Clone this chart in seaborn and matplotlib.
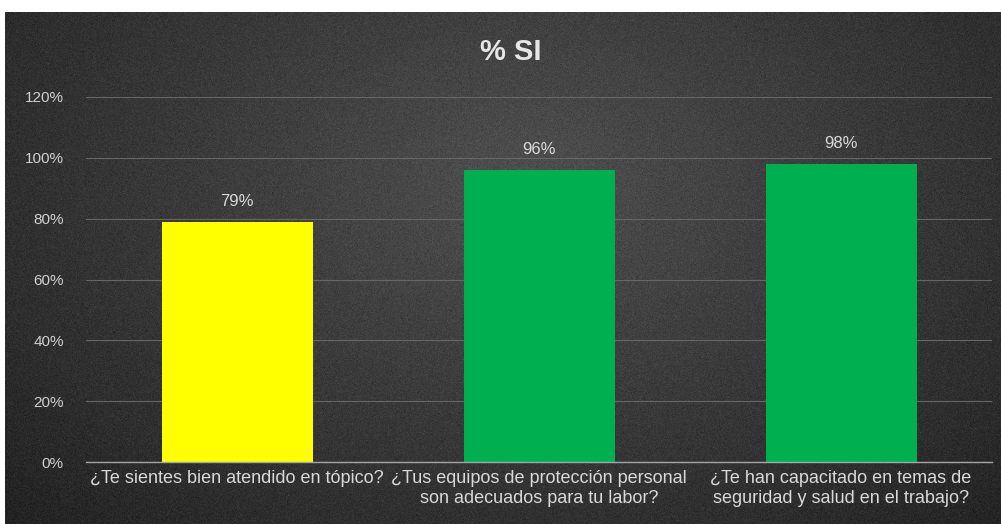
import numpy as np
import pandas as pd
import matplotlib
matplotlib.use("Agg")
import matplotlib.pyplot as plt
import seaborn as sns
from matplotlib.ticker import PercentFormatter

# Survey results: share of "yes" answers per question
preguntas = [
    "¿Te sientes bien atendido en tópico?",
    "¿Tus equipos de protección personal\nson adecuados para tu labor?",
    "¿Te han capacitado en temas de\nseguridad y salud en el trabajo?",
]
porcentaje_si = [79, 96, 98]
colores = ["#FFFF00", "#00B050", "#00B050"]
titulo = "% SI"

sns.set_theme(style="dark")
plt.rcParams["font.family"] = ["Liberation Sans", "DejaVu Sans"]

W, H = 1001, 524
fig = plt.figure(figsize=(W / 100, H / 100), dpi=100, facecolor="white")

# Dark textured panel with a soft radial light in the middle
bg = fig.add_axes([5 / W, 0, 1 - 5 / W, 512 / H])
yy, xx = np.mgrid[0:512, 0:996]
d = np.sqrt(((xx - 520) / 620.0) ** 2 + ((yy - 170) / 420.0) ** 2)
shade = 0.31 - 0.15 * np.clip(d, 0, 1.3)
rng = np.random.default_rng(3)
shade = shade + rng.normal(0, 0.018, shade.shape)
shade = np.clip(shade, 0, 1)
bg.imshow(np.dstack([shade] * 3), aspect="auto", interpolation="bilinear")
bg.set_axis_off()

df = pd.DataFrame({"pregunta": preguntas, "si": porcentaje_si})

ax = fig.add_axes([86 / W, (H - 462) / H, (992 - 86) / W, (462 - 97) / H])
ax.set_facecolor("none")
sns.barplot(data=df, x="pregunta", y="si", hue="pregunta", palette=colores,
            legend=False, width=0.5, saturation=1, ax=ax, edgecolor="none")

ax.set_ylim(0, 120)
ax.set_yticks(range(0, 121, 20))
ax.yaxis.set_major_formatter(PercentFormatter(decimals=0))
ax.grid(axis="y", color="#666666", linewidth=0.8)
ax.grid(axis="x", visible=False)
ax.set_axisbelow(True)
for s in ["top", "right", "left"]:
    ax.spines[s].set_visible(False)
ax.spines["bottom"].set_color("#a6a6a6")
ax.spines["bottom"].set_linewidth(1.0)
ax.set_xlabel("")
ax.set_ylabel("")
ax.tick_params(axis="y", colors="#d0d0d0", labelsize=11, length=0, pad=16)
ax.tick_params(axis="x", colors="#d9d9d9", labelsize=13, length=0, pad=6)
for lbl in ax.get_xticklabels():
    lbl.set_multialignment("center")

for cont in ax.containers:
    ax.bar_label(cont, labels=[f"{v:.0f}%" for v in cont.datavalues], padding=9,
                 color="#d9d9d9", fontsize=12)

fig.text(511 / W, 1 - 52 / H, titulo, ha="center", va="center",
         color="#e6e6e6", fontsize=21, fontweight="bold")

fig.savefig("out.png", dpi=100, facecolor="white")
